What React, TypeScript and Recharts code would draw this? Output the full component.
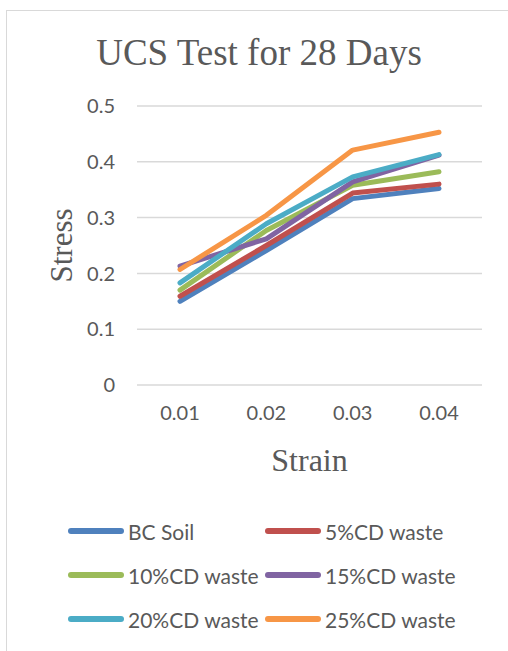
import React from 'react';
import { LineChart, Line, XAxis, YAxis, CartesianGrid, Legend } from 'recharts';

const strains = ['0.01', '0.02', '0.03', '0.04'];
const bcSoil = [0.15, 0.241, 0.334, 0.352];
const cd5 = [0.159, 0.25, 0.344, 0.36];
const cd10 = [0.17, 0.277, 0.358, 0.382];
const cd15 = [0.213, 0.262, 0.364, 0.412];
const cd20 = [0.183, 0.289, 0.373, 0.413];
const cd25 = [0.207, 0.304, 0.421, 0.453];
const yTicks = [0, 0.1, 0.2, 0.3, 0.4, 0.5];

const series = [
  { key: 'bc', name: 'BC Soil', values: bcSoil, color: '#4F81BD' },
  { key: 'cd5', name: '5%CD waste', values: cd5, color: '#C0504D' },
  { key: 'cd10', name: '10%CD waste', values: cd10, color: '#9BBB59' },
  { key: 'cd15', name: '15%CD waste', values: cd15, color: '#8064A2' },
  { key: 'cd20', name: '20%CD waste', values: cd20, color: '#4BACC6' },
  { key: 'cd25', name: '25%CD waste', values: cd25, color: '#F79646' },
];

const data = strains.map((s, i) => {
  const row: Record<string, string | number> = { strain: s };
  series.forEach(se => { row[se.key] = se.values[i]; });
  return row;
});

const SANS = "Lato, 'Open Sans', sans-serif";
const SERIF = "'Liberation Serif', 'Times New Roman', serif";
const TEXT = '#595959';

const LegendGrid = () => (
  <div style={{ position: 'relative', width: 508, height: 130, fontFamily: SANS, fontSize: 21, color: TEXT }}>
    {series.map((s, i) => {
      const col = i % 2;
      const row = Math.floor(i / 2);
      const left = col === 0 ? 68 : 265;
      const top = 26 + row * 44;
      return (
        <div key={s.key} style={{ position: 'absolute', left, top: top - 14, height: 28, display: 'flex', alignItems: 'center', whiteSpace: 'nowrap' }}>
          <span style={{ display: 'inline-block', width: 56, height: 6, borderRadius: 3, background: s.color, marginRight: 4 }} />
          <span>{s.name}</span>
        </div>
      );
    })}
  </div>
);

export default function App() {
  return (
    <div style={{ position: 'absolute', left: 0, top: 0, width: 508, height: 651, overflow: 'hidden', background: '#fff' }}>
      <div style={{ position: 'absolute', left: 6, top: 10, width: 540, height: 700, border: '1px solid #d9d9d9' }} />
      <div style={{ position: 'absolute', left: 0, top: 32, width: 518, textAlign: 'center', fontFamily: SERIF, fontSize: 37, color: TEXT, lineHeight: '42px' }}>
        UCS Test for 28 Days
      </div>
      <div style={{ position: 'absolute', left: 0, top: 0 }}>
        <LineChart width={508} height={651} data={data} margin={{ top: 106, right: 26, bottom: 176, left: 0 }}>
          <CartesianGrid vertical={false} stroke="#d9d9d9" strokeWidth={1.5} />
          <XAxis
            dataKey="strain"
            axisLine={false}
            tickLine={false}
            tickSize={0}
            tickMargin={21}
            height={90}
            padding={{ left: 43, right: 43 }}
            tick={{ fill: TEXT, fontSize: 20, fontFamily: SANS }}
            label={{ value: 'Strain', position: 'center', dy: 30, fill: TEXT, fontSize: 32, fontFamily: SERIF }}
          />
          <YAxis
            width={137}
            domain={[0, 0.5]}
            ticks={yTicks}
            axisLine={false}
            tickLine={false}
            tickSize={0}
            tickMargin={22}
            tick={{ fill: TEXT, fontSize: 20, fontFamily: SANS }}
            label={{ value: 'Stress', angle: -90, position: 'center', dx: -8, fill: TEXT, fontSize: 31, fontFamily: SERIF }}
          />
          <Legend layout="horizontal" verticalAlign="middle" align="center" wrapperStyle={{ top: 505, left: 0, width: 508 }} content={() => <LegendGrid />} />
          {series.map(s => (
            <Line
              key={s.key}
              type="linear"
              dataKey={s.key}
              name={s.name}
              stroke={s.color}
              strokeWidth={5}
              strokeLinecap="round"
              strokeLinejoin="round"
              dot={false}
              isAnimationActive={false}
            />
          ))}
        </LineChart>
      </div>
    </div>
  );
}
